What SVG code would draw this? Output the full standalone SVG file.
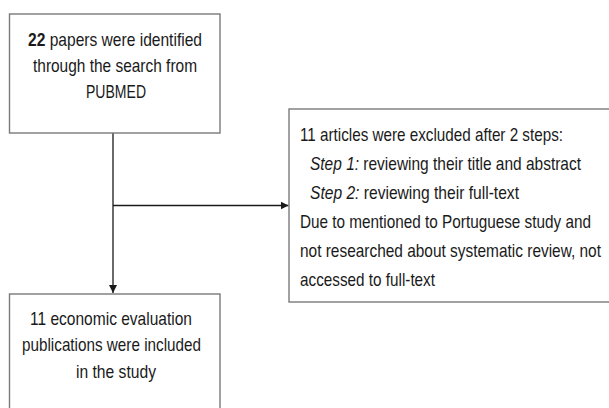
<svg xmlns="http://www.w3.org/2000/svg" width="609" height="408" viewBox="0 0 609 408">
<style>
.box{fill:#ffffff;stroke:#7a7a7a;stroke-width:1.4}
.t{font-family:"Liberation Sans",Arial,sans-serif;font-size:15px;fill:#1a1a1a}
.c{text-anchor:middle}
.ln{stroke:#1a1a1a;stroke-width:1.3;fill:none}
</style>
<defs>
<marker id="ah" markerWidth="9" markerHeight="9" refX="8" refY="4.5" orient="auto" markerUnits="userSpaceOnUse">
<path d="M0,0.5 L8,4.5 L0,8.5 Z" fill="#1a1a1a"/>
</marker>
</defs>
<rect width="609" height="408" fill="#ffffff"/>
<g id="connectors">
<line class="ln" x1="113" y1="133" x2="113" y2="293" marker-end="url(#ah)"/>
<line class="ln" x1="113" y1="205.5" x2="288.5" y2="205.5" marker-end="url(#ah)"/>
</g>
<g id="node-search">
<rect class="box" x="9.5" y="14" width="210.5" height="119"/>
<text class="t c" transform="translate(115,46) scale(1,1.2)" textLength="174" lengthAdjust="spacingAndGlyphs"><tspan font-weight="bold">22</tspan> papers were identified</text>
<text class="t c" transform="translate(115,72) scale(1,1.2)" textLength="164" lengthAdjust="spacingAndGlyphs">through the search from</text>
<text class="t c" transform="translate(116,98) scale(1,1.2)" textLength="60" lengthAdjust="spacingAndGlyphs">PUBMED</text>
</g>
<g id="node-excluded">
<rect class="box" x="289" y="109" width="330" height="193"/>
<text class="t" transform="translate(300,141) scale(1,1.2)" textLength="263" lengthAdjust="spacingAndGlyphs">11 articles were excluded after 2 steps:</text>
<text class="t" transform="translate(310,170) scale(1,1.2)" textLength="271" lengthAdjust="spacingAndGlyphs"><tspan font-style="italic">Step 1:</tspan> reviewing their title and abstract</text>
<text class="t" transform="translate(310,199) scale(1,1.2)" textLength="209" lengthAdjust="spacingAndGlyphs"><tspan font-style="italic">Step 2:</tspan> reviewing their full-text</text>
<text class="t" transform="translate(300,228) scale(1,1.2)" textLength="291" lengthAdjust="spacingAndGlyphs">Due to mentioned to Portuguese study and</text>
<text class="t" transform="translate(300,257) scale(1,1.2)" textLength="301" lengthAdjust="spacingAndGlyphs">not researched about systematic review, not</text>
<text class="t" transform="translate(300,286) scale(1,1.2)" textLength="135" lengthAdjust="spacingAndGlyphs">accessed to full-text</text>
</g>
<g id="node-included">
<rect class="box" x="9.5" y="294" width="210.5" height="130"/>
<text class="t c" transform="translate(111,325) scale(1,1.2)" textLength="162" lengthAdjust="spacingAndGlyphs">11 economic evaluation</text>
<text class="t c" transform="translate(111.5,351) scale(1,1.2)" textLength="179" lengthAdjust="spacingAndGlyphs">publications were included</text>
<text class="t c" transform="translate(116,378) scale(1,1.2)" textLength="80" lengthAdjust="spacingAndGlyphs">in the study</text>
</g>
</svg>
